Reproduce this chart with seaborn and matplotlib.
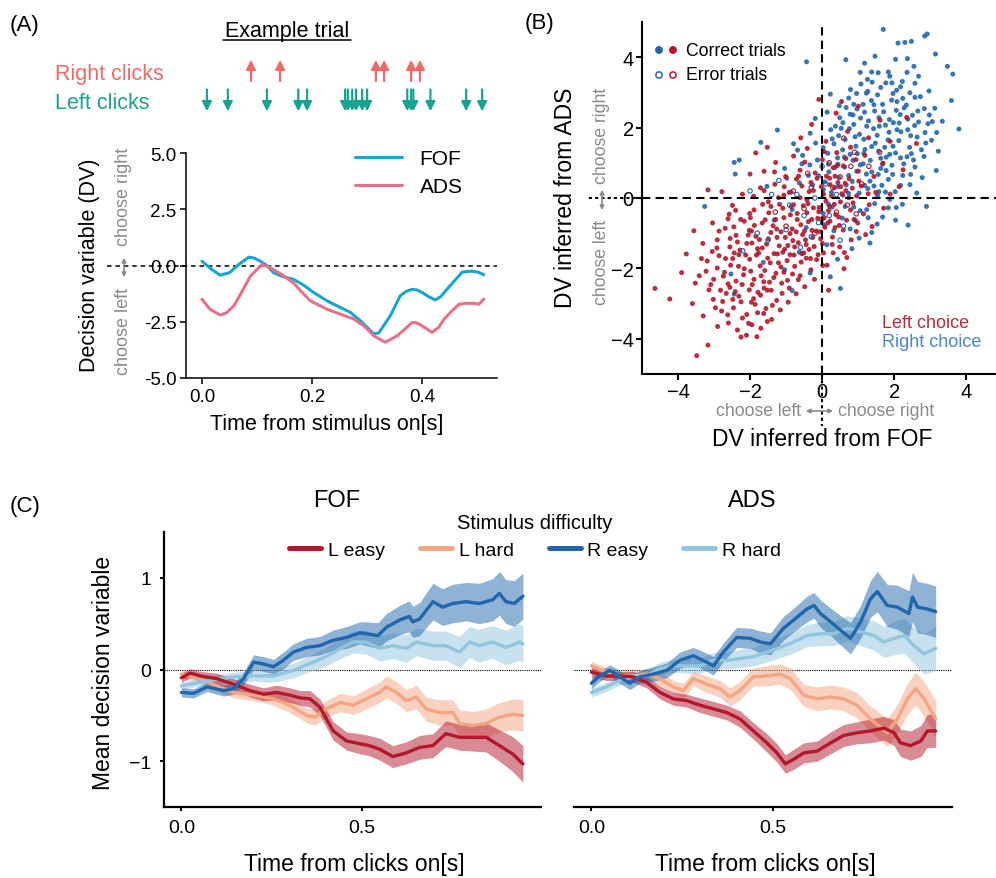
import pandas as pd
import seaborn as sns
import matplotlib.pyplot as plt
from matplotlib.lines import Line2D
from matplotlib.patches import FancyArrowPatch

W, H = 996, 879


def fx(x):
    return x / W


def fy(y):
    return 1 - y / H


# ---------------- panel A: example trial ----------------
right_clicks = [0.089, 0.142, 0.316, 0.331, 0.380, 0.396]
left_clicks = [0.009, 0.047, 0.118, 0.175, 0.191, 0.260, 0.265, 0.273, 0.280,
               0.291, 0.300, 0.373, 0.380, 0.384, 0.415, 0.480, 0.509]

fof_t = [0, 0.018, 0.033, 0.05, 0.067, 0.085, 0.095, 0.106, 0.118, 0.13, 0.148,
         0.167, 0.185, 0.203, 0.227, 0.25, 0.27, 0.288, 0.3, 0.312, 0.321, 0.33,
         0.343, 0.36, 0.371, 0.382, 0.39, 0.4, 0.413, 0.424, 0.434, 0.445, 0.458,
         0.473, 0.49, 0.502, 0.512]
fof_dv = [0.19, -0.18, -0.43, -0.32, 0.05, 0.37, 0.33, 0.19, 0.0, -0.32, -0.5,
          -0.62, -0.88, -1.2, -1.57, -1.85, -2.09, -2.46, -2.75, -3.04, -3.0, -2.68,
          -2.2, -1.35, -1.15, -1.06, -1.08, -1.2, -1.4, -1.53, -1.38, -1.06, -0.7,
          -0.29, -0.25, -0.3, -0.41]
ads_t = [0, 0.015, 0.033, 0.045, 0.058, 0.073, 0.088, 0.109, 0.12, 0.13, 0.148,
         0.167, 0.182, 0.197, 0.227, 0.25, 0.276, 0.295, 0.312, 0.333, 0.355, 0.37,
         0.382, 0.39, 0.4, 0.418, 0.43, 0.44, 0.455, 0.467, 0.48, 0.494, 0.503, 0.512]
ads_dv = [-1.5, -1.95, -2.2, -2.1, -1.79, -1.15, -0.47, 0.04, -0.05, -0.18, -0.45,
          -0.79, -1.2, -1.57, -1.94, -2.15, -2.38, -2.7, -3.12, -3.41, -3.12, -2.8,
          -2.53, -2.55, -2.68, -2.97, -2.75, -2.38, -2.0, -1.72, -1.68, -1.68, -1.72, -1.5]

# ---------------- panel B: single-trial DVs (FOF, ADS) ----------------
right_correct = [
    (1.70, 4.79), (2.85, 4.60), (2.92, 4.66), (2.11, 4.40), (2.30, 4.42), (2.48, 4.45),
    (3.15, 4.09), (3.48, 3.74), (3.63, 3.52), (3.59, 2.77), (3.80, 1.96), (0.66, 3.93),
    (-0.43, 3.87), (-2.44, 1.01), (-2.30, 1.08), (-2.41, 0.68), (-3.26, -0.24), (-1.70, 1.58),
    (0.51, -2.57), (2.39, -0.77), (2.90, -0.24), (3.17, 0.78), (-2.53, -2.16), (-2.44, -2.73),
    (-0.83, -2.63), (1.18, 3.83), (1.47, 4.03), (1.84, 3.58), (2.04, 3.94), (2.23, 3.31),
    (2.55, 3.74), (1.39, 3.29), (1.06, 3.57), (1.63, 3.14), (2.68, 3.46), (0.79, 3.08),
    (1.94, 3.27), (2.37, 3.96), (2.97, 3.04), (1.27, 3.03), (0.23, 2.95), (0.49, 2.28),
    (0.74, 2.84), (0.88, 2.09), (1.14, 2.66), (1.29, 2.19), (1.54, 2.93), (1.71, 2.45),
    (1.93, 2.78), (2.14, 2.13), (2.34, 2.64), (2.51, 2.35), (2.73, 2.88), (2.94, 2.11),
    (3.13, 2.55), (3.34, 2.18), (0.37, 2.04), (1.23, 2.98), (1.59, 2.04), (2.06, 2.49),
    (2.44, 2.99), (0.14, 2.44), (0.97, 2.53), (1.44, 2.65), (1.87, 2.23), (2.24, 2.83),
    (2.84, 2.54), (-0.19, 2.26), (-1.24, 1.93), (-0.79, 1.54), (-0.54, 1.21), (-0.33, 1.84),
    (0.03, 1.43), (0.24, 1.94), (0.43, 1.14), (0.64, 1.66), (0.78, 1.24), (1.04, 1.81),
    (1.19, 1.38), (1.43, 1.97), (1.63, 1.13), (1.83, 1.65), (2.04, 1.28), (2.19, 1.88),
    (2.43, 1.44), (2.64, 1.73), (2.83, 1.18), (3.04, 1.64), (3.23, 1.33), (0.53, 1.98),
    (0.94, 1.47), (1.34, 1.07), (1.74, 1.44), (2.13, 1.63), (2.54, 1.08), (-0.13, 1.08),
    (0.33, 1.54), (1.53, 1.78), (-1.53, 0.33), (-1.04, 0.84), (-0.63, 0.43), (-0.34, 0.94),
    (0.04, 0.24), (0.19, 0.74), (0.44, 0.33), (0.63, 0.88), (0.84, 0.47), (1.03, 0.14),
    (1.23, 0.68), (1.44, 0.34), (1.63, 0.84), (1.84, 0.53), (2.03, 0.18), (2.24, 0.64),
    (2.44, 0.38), (2.63, 0.14), (1.14, 0.97), (1.54, 0.07), (0.74, 0.13), (1.94, 0.93),
    (2.78, 0.58), (-0.09, 0.63), (0.47, 0.58), (1.33, 0.48), (-1.33, -0.63), (-0.83, -0.33),
    (-0.44, -0.84), (0.03, -0.44), (0.33, -0.93), (0.64, -0.24), (0.93, -0.64), (1.24, -0.33),
    (1.53, -0.74), (1.84, -0.28), (2.04, -0.63), (2.23, -0.18), (0.78, -0.88), (1.38, -0.98),
    (0.18, -0.18), (1.68, -0.54), (-1.63, -1.83), (-0.63, -1.54), (-0.33, -2.13), (0.13, -1.33),
    (0.43, -1.74), (0.83, -1.44), (1.03, -1.14), (-1.04, -2.04), (0.23, -2.24), (1.33, -1.28),
    (0.57, 1.37), (0.86, 2.36), (1.16, 1.67), (1.37, 2.77), (1.57, 1.33), (1.76, 2.07),
    (1.97, 1.47), (2.17, 2.37), (2.36, 1.17), (2.57, 2.06), (0.36, 0.87), (0.67, 0.37),
    (0.96, 0.76), (1.27, 0.27), (1.66, 0.36), (1.96, 0.67), (2.27, 0.97), (0.16, 1.27),
    (0.46, 1.77), (0.76, 1.97), (1.07, 2.27), (1.46, 2.47), (1.86, 1.87), (2.46, 1.77),
    (2.66, 2.47), (1.26, 3.37), (1.77, 3.27), (2.07, 3.06), (2.36, 3.57), (1.56, 3.56),
    (0.96, 2.97), (2.86, 1.86), (3.06, 2.17), (0.26, 0.16), (-0.26, 0.37), (-0.56, 0.97),
    (-0.86, 0.17), (0.06, -0.76), (0.56, -0.57), (1.06, -0.36), (1.46, -0.16), (1.76, 0.17),
    (2.06, -0.27), (0.86, 1.07), (1.16, 1.27), (1.56, 0.67), (2.46, 0.67), (2.76, 1.37),
    (0.67, 2.57), (1.97, 2.97), (0.62, 1.16), (0.92, 1.74), (1.24, 2.04), (1.48, 1.56),
    (1.68, 2.66), (1.88, 1.24), (2.08, 1.94), (2.28, 2.56), (2.48, 1.26), (2.68, 2.16),
    (0.44, 0.96), (0.74, 0.64), (1.06, 0.94), (1.38, 0.74), (1.78, 0.78), (2.18, 1.14),
    (0.28, 1.68), (0.58, 2.14), (0.88, 2.66), (1.18, 2.44), (1.58, 2.28), (1.98, 2.14),
    (2.38, 2.24), (2.58, 2.86), (1.38, 3.58), (1.88, 3.46), (2.18, 3.16), (2.58, 3.26),
    (1.08, 3.24), (0.48, 2.62), (2.98, 2.36), (3.18, 1.86), (0.08, 0.46), (-0.38, 0.64),
    (-0.68, 1.36), (-0.98, 0.56), (0.28, -0.26), (0.88, -0.26), (1.28, -0.56), (1.58, 0.18),
    (1.88, -0.04), (2.18, 0.36), (0.98, 1.26), (1.38, 1.46), (1.68, 0.96), (2.58, 0.88),
    (2.88, 1.56), (0.78, 2.38), (2.08, 2.74), (1.18, 0.36), (0.58, 0.08), (0.18, 0.96),
    (-0.18, 1.56), (1.78, 1.16), (2.38, 1.94),
]

left_correct = [
    (-3.48, -4.48), (-3.17, -4.18), (-2.35, -3.75), (-2.10, -3.90), (-1.81, -3.94), (-1.95, -3.60),
    (-2.60, -3.55), (-1.52, -3.51), (-2.25, -3.95), (-1.70, -3.70), (-2.90, -3.65), (-1.40, -3.45),
    (-4.64, -2.57), (-4.23, -2.87), (-3.60, -3.00), (-3.30, -3.35), (-3.02, -2.88), (-2.79, -3.21),
    (-2.66, -2.71), (-2.46, -3.12), (-2.31, -2.79), (-2.09, -3.31), (-2.02, -2.61), (-1.86, -3.02),
    (-1.71, -2.76), (-1.56, -3.14), (-1.41, -2.62), (-1.26, -2.91), (-2.56, -2.54), (-3.14, -2.61),
    (-2.21, -3.41), (-1.96, -2.96), (-1.61, -2.56), (-2.76, -2.94), (-1.11, -2.71), (-0.91, -2.56),
    (-2.41, -2.66), (-1.79, -3.26), (-3.77, -1.59), (-3.41, -2.21), (-3.19, -1.79), (-3.01, -2.31),
    (-2.86, -1.64), (-2.71, -2.11), (-2.54, -1.91), (-2.39, -2.36), (-2.31, -1.61), (-2.16, -2.01),
    (-2.01, -1.74), (-1.89, -2.31), (-1.76, -1.56), (-1.59, -2.06), (-1.51, -1.71), (-1.34, -2.26),
    (-1.21, -1.84), (-1.06, -2.11), (-0.89, -1.61), (-0.76, -1.94), (-0.61, -2.21), (-0.44, -1.71),
    (-0.31, -2.04), (-0.11, -1.61), (0.14, -1.91), (0.31, -1.56), (-2.61, -2.44), (-1.94, -2.46),
    (-1.46, -2.39), (-0.96, -2.34), (-2.44, -1.56), (-1.09, -1.54), (0.61, -2.01), (0.69, -1.69),
    (-0.21, -2.31), (-3.09, -2.46), (-2.91, -1.99), (-1.69, -2.21), (-1.24, -1.59), (-0.51, -1.56),
    (-3.56, -0.93), (-3.31, -1.29), (-3.04, -0.71), (-2.91, -1.19), (-2.69, -0.86), (-2.56, -1.39),
    (-2.39, -1.06), (-2.26, -0.61), (-2.09, -1.29), (-1.96, -0.94), (-1.79, -1.44), (-1.66, -0.71),
    (-1.49, -1.16), (-1.36, -0.79), (-1.19, -1.36), (-1.06, -0.56), (-0.89, -1.01), (-0.76, -1.39),
    (-0.59, -0.76), (-0.46, -1.19), (-0.29, -0.61), (-0.16, -0.94), (0.01, -1.29), (0.16, -0.71),
    (0.29, -1.11), (0.46, -0.54), (0.59, -0.91), (0.81, -1.19), (0.99, -0.71), (1.21, -1.04),
    (-1.99, -0.56), (-1.54, -1.31), (-1.14, -0.96), (-0.69, -0.61), (-0.36, -1.46), (0.06, -0.56),
    (0.49, -1.39), (-2.61, -0.59), (-1.84, -1.09), (-1.29, -0.61), (-0.81, -1.21), (-0.49, -0.94),
    (-0.04, -1.16), (0.36, -0.84), (0.89, -0.61), (1.39, -0.81), (-3.17, 0.23), (-2.78, 0.18),
    (-2.49, -0.21), (-2.21, 0.11), (-1.89, -0.34), (-1.71, 0.29), (-1.49, -0.11), (-1.31, 0.39),
    (-1.09, -0.29), (-0.91, 0.16), (-0.69, -0.44), (-0.56, 0.34), (-0.39, -0.16), (-0.24, 0.21),
    (-0.09, -0.39), (0.04, 0.11), (0.21, -0.24), (0.34, 0.29), (0.51, -0.11), (0.66, 0.21),
    (0.79, -0.34), (0.96, 0.06), (1.09, 0.34), (1.31, -0.19), (1.49, 0.16), (1.71, -0.29),
    (-2.01, -0.44), (-1.21, 0.01), (-0.79, -0.19), (-0.31, 0.44), (0.11, -0.09), (0.44, 0.44),
    (0.74, 0.01), (-1.61, 0.21), (-0.61, 0.01), (0.26, 0.06), (1.89, 0.11), (-2.00, 0.68),
    (-1.84, 1.28), (-1.52, 1.44), (-1.61, 0.76), (-1.29, 1.01), (-1.01, 0.61), (-0.79, 1.19),
    (-0.61, 0.79), (-0.41, 1.41), (-0.19, 0.71), (0.01, 1.09), (0.21, 0.56), (0.41, 1.29),
    (0.59, 0.91), (0.79, 1.44), (1.01, 0.76), (1.19, 1.21), (1.44, 0.61), (1.69, 0.99),
    (2.25, 0.80), (2.14, 0.32), (-0.71, 0.54), (0.31, 0.86), (0.94, 1.09), (-0.09, 2.80),
    (2.62, 1.55), (2.35, 2.29), (-0.59, 1.71), (-0.29, 2.09), (0.11, 1.61), (0.39, 2.41),
    (0.71, 1.89), (1.01, 2.61), (1.29, 1.71), (1.61, 2.21), (0.54, 2.74), (1.89, 1.61),
    (-2.35, -1.25), (-2.12, -1.62), (-1.88, -0.78), (-1.72, -1.93), (-1.48, -0.42), (-1.33, -1.58),
    (-1.18, -0.18), (-0.97, -1.78), (-0.83, -0.88), (-0.66, -1.27), (-0.52, -0.22), (-0.38, -0.67),
    (-0.22, -1.38), (-0.08, -0.27), (0.08, -0.83), (0.22, 0.38), (0.38, -0.47), (0.55, 0.12),
    (0.68, -0.63), (0.84, 0.28), (-2.68, -1.72), (-2.45, -0.82), (-2.18, -2.18), (-1.95, -1.28),
    (-1.62, -2.38), (-1.42, -0.98), (-1.12, -2.42), (-0.88, -0.48), (-0.58, -1.82), (-0.28, -0.92),
    (-0.02, 0.32), (0.28, -1.32), (-3.05, -1.52), (-2.82, -2.62), (-2.25, -2.95), (-1.38, -3.05),
    (-0.72, -2.72), (-0.42, -0.05), (0.12, 0.62), (0.42, 0.92), (-1.05, 0.32), (-1.65, -0.18),
    (-2.05, -1.05), (-2.55, -1.15), (-0.15, -1.75), (0.62, -1.55), (0.95, -0.95), (1.15, -0.45),
    (-0.65, 0.62), (-0.95, -1.35), (-1.78, -2.68), (-2.92, -1.42), (-3.35, -1.72), (-1.25, -1.12),
    (-0.48, -2.52), (0.18, -2.62), (0.75, 0.55), (1.28, 0.12), (-1.90, 0.05), (-2.40, -0.35),
    (-2.28, -1.48), (-2.02, -0.92), (-1.82, -1.62), (-1.58, -0.62), (-1.44, -1.84), (-1.26, -0.88),
    (-1.04, -1.46), (-0.86, -0.24), (-0.72, -0.96), (-0.56, -1.58), (-0.42, -0.42), (-0.26, -1.12),
    (-0.12, -0.58), (0.04, -1.56), (0.18, -0.36), (0.34, -0.18), (0.48, -0.78), (0.64, 0.42),
    (-2.74, -2.22), (-2.48, -1.72), (-2.22, -2.46), (-1.98, -2.08), (-1.74, -1.18), (-1.52, -2.62),
    (-1.28, -2.14), (-1.02, -1.12), (-0.78, -1.62), (-0.54, -1.04), (-0.32, -1.72), (-0.06, -0.96),
    (0.22, -0.66), (-3.22, -2.08), (-2.96, -3.12), (-2.62, -3.32), (-2.04, -3.56), (-1.62, -3.28),
    (-1.16, -3.18), (-0.36, 0.18), (-0.14, 0.56), (0.52, 0.32), (-1.42, -0.24), (-2.16, -0.66),
    (-2.86, -0.94), (-1.90, -2.86), (-0.66, -2.32), (-0.94, -2.96), (-2.48, -2.88), (-3.52, -2.42),
    (-3.90, -2.12), (-1.06, 0.08), (-0.24, -0.28), (0.36, 0.62), (0.86, -0.14), (1.02, 0.48),
    (-1.66, -1.42), (-2.32, -1.94), (-1.14, -1.96), (-0.82, -2.16), (-0.44, -1.32), (0.02, -1.92),
    (-2.58, -0.46), (-1.32, 0.74), (-0.48, 1.02), (0.06, 1.32), (0.66, 1.12),
]

left_error = [(0.5, 0.6), (0.9, 1.3), (0.2, 1.0), (-0.3, 0.3), (0.7, -0.2), (1.1, 0.4),
              (0.0, -0.6), (-0.5, -0.3), (0.4, -0.4), (1.3, 0.9), (-0.8, 0.2), (0.6, 1.7),
              (-0.2, -1.0), (0.95, -0.45), (-1.0, -0.8), (1.6, 1.3), (0.3, 0.3), (-0.4, 0.7),
              (0.8, 0.9), (-1.3, -0.4)]
right_error = [(-0.5, -0.5), (-1.0, -0.9), (-0.2, 0.0), (0.2, -0.5), (-0.7, 0.1), (-1.5, -1.2),
               (0.1, 0.4), (-0.9, -0.2), (-1.8, -1.0), (0.4, 0.1), (-0.3, -1.1), (-1.2, 0.5),
               (0.6, -0.8), (-2.2, -1.5), (-0.6, -1.4), (0.0, 0.9), (-1.4, 0.1), (-0.1, -0.7),
               (0.5, -1.2), (-2.0, 0.2)]

# ---------------- panel C: mean DV by stimulus difficulty ----------------
fof_reasy_t = [0, 0.034, 0.071, 0.117, 0.144, 0.172, 0.2, 0.227, 0.255, 0.282, 0.31, 0.346,
               0.383, 0.42, 0.457, 0.494, 0.512, 0.544, 0.567, 0.604, 0.631, 0.64, 0.659,
               0.696, 0.723, 0.751, 0.788, 0.824, 0.861, 0.88, 0.898, 0.921, 0.945]
fof_reasy_m = [-0.25, -0.26, -0.19, -0.23, -0.21, -0.10, 0.08, 0.06, 0.03, 0.10, 0.19, 0.24,
               0.26, 0.32, 0.35, 0.40, 0.39, 0.37, 0.46, 0.54, 0.58, 0.52, 0.55,
               0.74, 0.68, 0.72, 0.74, 0.72, 0.76, 0.83, 0.74, 0.72, 0.80]
fof_reasy_e = [0.05, 0.05, 0.05, 0.06, 0.06, 0.07, 0.08, 0.08, 0.08, 0.09, 0.09, 0.1,
               0.1, 0.11, 0.12, 0.12, 0.13, 0.14, 0.15, 0.16, 0.17, 0.17, 0.18,
               0.2, 0.2, 0.21, 0.21, 0.22, 0.23, 0.24, 0.24, 0.25, 0.25]

fof_rhard_t = [0, 0.05, 0.11, 0.144, 0.2, 0.255, 0.31, 0.365, 0.4, 0.44, 0.475, 0.51, 0.55,
               0.585, 0.622, 0.65, 0.696, 0.732, 0.77, 0.797, 0.824, 0.861, 0.898, 0.935, 0.945]
fof_rhard_m = [-0.18, -0.14, -0.10, -0.08, -0.07, -0.07, -0.01, 0.08, 0.14, 0.23, 0.30, 0.30,
               0.23, 0.26, 0.23, 0.30, 0.26, 0.26, 0.19, 0.30, 0.26, 0.30, 0.24, 0.30, 0.28]
fof_rhard_e = [0.04, 0.04, 0.05, 0.05, 0.06, 0.07, 0.08, 0.09, 0.1, 0.11, 0.12, 0.13, 0.14,
               0.14, 0.15, 0.15, 0.16, 0.16, 0.17, 0.17, 0.18, 0.18, 0.19, 0.2, 0.2]

fof_leasy_t = [0, 0.025, 0.052, 0.098, 0.144, 0.19, 0.227, 0.264, 0.3, 0.328, 0.356, 0.383,
               0.42, 0.457, 0.494, 0.52, 0.549, 0.585, 0.622, 0.659, 0.696, 0.732, 0.77,
               0.806, 0.843, 0.88, 0.916, 0.945]
fof_leasy_m = [-0.09, -0.04, -0.07, -0.10, -0.16, -0.23, -0.27, -0.25, -0.28, -0.31, -0.32, -0.41,
               -0.67, -0.78, -0.81, -0.83, -0.87, -0.95, -0.91, -0.85, -0.83, -0.70, -0.74,
               -0.74, -0.74, -0.83, -0.92, -1.03]
fof_leasy_e = [0.05, 0.05, 0.05, 0.06, 0.06, 0.07, 0.07, 0.08, 0.08, 0.08, 0.09, 0.09,
               0.1, 0.1, 0.11, 0.11, 0.12, 0.12, 0.12, 0.13, 0.13, 0.14, 0.14,
               0.15, 0.16, 0.17, 0.19, 0.2]

fof_lhard_t = [0, 0.052, 0.098, 0.144, 0.2, 0.255, 0.3, 0.346, 0.37, 0.4, 0.44, 0.475, 0.512,
               0.549, 0.567, 0.595, 0.622, 0.65, 0.677, 0.714, 0.751, 0.77, 0.806, 0.843,
               0.88, 0.916, 0.945]
fof_lhard_m = [-0.05, -0.10, -0.18, -0.25, -0.28, -0.32, -0.39, -0.50, -0.52, -0.43, -0.36,
               -0.39, -0.32, -0.25, -0.19, -0.25, -0.34, -0.30, -0.43, -0.47, -0.47, -0.59,
               -0.61, -0.59, -0.52, -0.49, -0.50]
fof_lhard_e = [0.04, 0.05, 0.05, 0.06, 0.06, 0.07, 0.08, 0.08, 0.09, 0.09, 0.1, 0.1, 0.11,
               0.11, 0.12, 0.12, 0.12, 0.13, 0.13, 0.14, 0.14, 0.15, 0.15, 0.16,
               0.16, 0.17, 0.17]

ads_reasy_t = [0, 0.023, 0.051, 0.078, 0.106, 0.134, 0.171, 0.208, 0.244, 0.281, 0.318, 0.337,
               0.364, 0.401, 0.439, 0.466, 0.494, 0.53, 0.558, 0.595, 0.614, 0.632, 0.66,
               0.687, 0.715, 0.743, 0.77, 0.789, 0.816, 0.844, 0.876, 0.886, 0.9, 0.927, 0.95]
ads_reasy_m = [-0.15, -0.07, -0.01, -0.08, -0.15, -0.08, -0.05, -0.01, 0.10, 0.15, 0.08, 0.04,
               0.19, 0.35, 0.34, 0.30, 0.28, 0.45, 0.54, 0.66, 0.70, 0.61, 0.52,
               0.43, 0.34, 0.52, 0.77, 0.85, 0.70, 0.68, 0.61, 0.79, 0.68, 0.66, 0.63]
ads_reasy_e = [0.06, 0.06, 0.06, 0.07, 0.07, 0.07, 0.08, 0.08, 0.09, 0.09, 0.1, 0.1,
               0.1, 0.11, 0.11, 0.12, 0.12, 0.13, 0.13, 0.14, 0.14, 0.15, 0.15,
               0.16, 0.17, 0.18, 0.2, 0.22, 0.23, 0.24, 0.25, 0.27, 0.28, 0.28, 0.28]

ads_rhard_t = [0, 0.041, 0.078, 0.115, 0.152, 0.189, 0.226, 0.263, 0.3, 0.337, 0.374, 0.41,
               0.447, 0.484, 0.521, 0.558, 0.595, 0.632, 0.669, 0.706, 0.743, 0.78, 0.807,
               0.835, 0.863, 0.89, 0.918, 0.95]
ads_rhard_m = [-0.25, -0.19, -0.12, -0.08, -0.07, 0.01, 0.04, 0.04, 0.04, 0.10, 0.10, 0.12,
               0.14, 0.19, 0.24, 0.30, 0.37, 0.39, 0.39, 0.45, 0.41, 0.37, 0.30,
               0.34, 0.37, 0.26, 0.17, 0.23]
ads_rhard_e = [0.05, 0.05, 0.05, 0.06, 0.06, 0.07, 0.07, 0.08, 0.08, 0.09, 0.09, 0.1,
               0.1, 0.11, 0.11, 0.12, 0.12, 0.13, 0.13, 0.14, 0.15, 0.16, 0.17,
               0.18, 0.19, 0.2, 0.22, 0.24]

ads_leasy_t = [0, 0.041, 0.078, 0.115, 0.152, 0.189, 0.226, 0.263, 0.3, 0.337, 0.374, 0.41,
               0.447, 0.484, 0.512, 0.535, 0.558, 0.586, 0.623, 0.66, 0.696, 0.733, 0.77,
               0.807, 0.835, 0.853, 0.881, 0.909, 0.927, 0.95]
ads_leasy_m = [-0.03, -0.07, -0.07, -0.08, -0.14, -0.25, -0.32, -0.34, -0.39, -0.43, -0.47,
               -0.54, -0.67, -0.80, -0.91, -1.03, -0.98, -0.91, -0.89, -0.80, -0.72, -0.69,
               -0.67, -0.64, -0.69, -0.80, -0.83, -0.78, -0.67, -0.67]
ads_leasy_e = [0.05, 0.05, 0.05, 0.06, 0.06, 0.07, 0.07, 0.07, 0.08, 0.08, 0.08, 0.09,
               0.09, 0.1, 0.1, 0.1, 0.11, 0.11, 0.11, 0.12, 0.12, 0.12, 0.13,
               0.13, 0.14, 0.15, 0.16, 0.17, 0.18, 0.18]

ads_lhard_t = [0, 0.041, 0.078, 0.115, 0.152, 0.189, 0.226, 0.254, 0.281, 0.318, 0.355, 0.383,
               0.41, 0.447, 0.484, 0.521, 0.549, 0.586, 0.623, 0.66, 0.696, 0.733, 0.77,
               0.798, 0.816, 0.844, 0.872, 0.895, 0.918, 0.95]
ads_lhard_m = [0.04, -0.03, -0.07, -0.07, -0.05, -0.10, -0.19, -0.23, -0.10, -0.16, -0.21,
               -0.30, -0.23, -0.08, -0.07, -0.05, -0.10, -0.28, -0.32, -0.30, -0.32, -0.39,
               -0.54, -0.63, -0.69, -0.54, -0.32, -0.21, -0.32, -0.54]
ads_lhard_e = [0.05, 0.05, 0.05, 0.06, 0.06, 0.07, 0.07, 0.08, 0.08, 0.09, 0.09, 0.1,
               0.1, 0.1, 0.11, 0.11, 0.12, 0.12, 0.13, 0.13, 0.13, 0.14, 0.14,
               0.15, 0.15, 0.16, 0.17, 0.18, 0.19, 0.2]

difficulty_labels = ["L easy", "L hard", "R easy", "R hard"]

# colours
C_FOF, C_ADS = "#16a6cf", "#e8718a"
C_RCLICK, C_LCLICK = "#ef6a64", "#17a391"
C_RED, C_BLUE = "#b2182b", "#2166ac"
C_LHARD, C_RHARD = "#f4a582", "#92c5de"
GRAY = "#8a8a8a"

sns.set_theme(style="ticks")
plt.rcParams["font.family"] = ["Liberation Sans", "DejaVu Sans"]
for key in ["text.color", "axes.labelcolor", "xtick.color", "ytick.color", "axes.edgecolor"]:
    plt.rcParams[key] = "black"

fig = plt.figure(figsize=(W / 100, H / 100), dpi=100)

# ================= panel A =================
fig.text(fx(10), fy(31), "(A)", fontsize=16, va="baseline")
fig.text(fx(287), fy(37), "Example trial", fontsize=15.5, ha="center", va="baseline")
fig.add_artist(Line2D([fx(223), fx(351)], [fy(41), fy(41)], color="black", lw=1.1,
                      transform=fig.transFigure))
fig.text(fx(55), fy(80), "Right clicks", fontsize=15.5, color=C_RCLICK, va="baseline")
fig.text(fx(55), fy(109), "Left clicks", fontsize=15.5, color=C_LCLICK, va="baseline")

ax_clk = fig.add_axes([fx(186), fy(114), 311 / W, 56 / H])
ax_clk.set_xlim(-0.029, 0.536)
ax_clk.set_ylim(0, 1)
ax_clk.axis("off")
for t in right_clicks:
    ax_clk.annotate("", xy=(t, 0.95), xytext=(t, 0.57),
                    arrowprops=dict(arrowstyle="-|>", color=C_RCLICK, lw=1.6,
                                    mutation_scale=14, shrinkA=0, shrinkB=0))
for t in left_clicks:
    ax_clk.annotate("", xy=(t, 0.03), xytext=(t, 0.42),
                    arrowprops=dict(arrowstyle="-|>", color=C_LCLICK, lw=1.6,
                                    mutation_scale=14, shrinkA=0, shrinkB=0))

axA = fig.add_axes([fx(186), fy(379), 311 / W, 225 / H])
sns.lineplot(x=fof_t, y=fof_dv, color=C_FOF, lw=2.2, label="FOF", ax=axA)
sns.lineplot(x=ads_t, y=ads_dv, color=C_ADS, lw=2.2, label="ADS", ax=axA)
axA.plot([-0.173, 0.536], [0, 0], ls=(0, (3, 2.5)), color="black", lw=1.1,
         clip_on=False, zorder=0)
axA.set_xlim(-0.029, 0.536)
axA.set_ylim(-5, 5)
axA.set_xticks([0, 0.2, 0.4])
axA.set_xticklabels(["0.0", "0.2", "0.4"])
axA.set_yticks([5, 2.5, 0, -2.5, -5])
axA.set_yticklabels(["5.0", "2.5", "0.0", "-2.5", "-5.0"])
axA.tick_params(labelsize=13.5, length=4, width=1.1, pad=3)
for s in ["left", "bottom"]:
    axA.spines[s].set_linewidth(1.1)
sns.despine(ax=axA)
axA.set_xlabel("")
axA.set_ylabel("")
axA.legend(loc="upper left", bbox_to_anchor=(fx(355), fy(150)), bbox_transform=fig.transFigure,
           frameon=False, fontsize=15, handlelength=2.25, handletextpad=0.85,
           labelspacing=0.45, borderpad=0, borderaxespad=0)
fig.text(fx(327), fy(425), "Time from stimulus on[s]", fontsize=15.5, ha="center", va="center")
fig.text(fx(89), fy(265), "Decision variable (DV)", fontsize=15.5, rotation=90,
         ha="center", va="center")
fig.text(fx(124), fy(197), "choose right", fontsize=13, color=GRAY, rotation=90,
         ha="center", va="center")
fig.text(fx(124), fy(331), "choose left", fontsize=13, color=GRAY, rotation=90,
         ha="center", va="center")
fig.add_artist(FancyArrowPatch((fx(124), fy(256)), (fx(124), fy(281)),
                               transform=fig.transFigure, arrowstyle="<|-|>",
                               mutation_scale=6, color=GRAY, lw=1.2))

# ================= panel B =================
fig.text(fx(525), fy(29), "(B)", fontsize=16, va="baseline")
axB = fig.add_axes([fx(642), fy(375), 354 / W, 352 / H])

df_r = pd.DataFrame(right_correct, columns=["fof", "ads"]).assign(choice="Right")
df_l = pd.DataFrame(left_correct, columns=["fof", "ads"]).assign(choice="Left")
correct = pd.concat([df_r, df_l], ignore_index=True)
sns.scatterplot(data=correct, x="fof", y="ads", hue="choice",
                palette={"Left": C_RED, "Right": C_BLUE}, s=13, linewidth=0,
                alpha=0.9, legend=False, ax=axB)
err_l = pd.DataFrame(left_error, columns=["fof", "ads"])
err_r = pd.DataFrame(right_error, columns=["fof", "ads"])
sns.scatterplot(data=err_r, x="fof", y="ads", s=10, facecolor="none", edgecolor=C_BLUE,
                linewidth=0.8, ax=axB)
sns.scatterplot(data=err_l, x="fof", y="ads", s=10, facecolor="none", edgecolor=C_RED,
                linewidth=0.8, ax=axB)

dash = (0, (4, 2.5))
axB.axvline(0, color="black", lw=1.5, ls=dash, zorder=3)
axB.axhline(0, color="black", lw=1.5, ls=dash, zorder=3)
axB.plot([0, 0], [-5, -6.48], color="black", lw=1.5, ls=(0, (1.5, 1.5)), clip_on=False)
axB.plot([-5, -6.53], [0, 0], color="black", lw=1.5, ls=(0, (1.5, 1.5)), clip_on=False)
axB.set_xlim(-5, 4.83)
axB.set_ylim(-5, 5)
axB.set_xticks([-4, -2, 0, 2, 4])
axB.set_yticks([-4, -2, 0, 2, 4])
axB.tick_params(labelsize=14.5, length=4, width=1.5, pad=2)
for s in ["left", "bottom"]:
    axB.spines[s].set_linewidth(1.5)
sns.despine(ax=axB)
axB.set_xlabel("")
axB.set_ylabel("")

# legend for correct / error trials
axB.scatter([fx(659), fx(673)], [fy(51), fy(51)], s=22, c=[C_BLUE, C_RED],
            transform=fig.transFigure, clip_on=False)
axB.scatter([fx(659), fx(673)], [fy(76), fy(76)], s=20, facecolors="none",
            edgecolors=[C_BLUE, C_RED], linewidths=1.1, transform=fig.transFigure, clip_on=False)
fig.text(fx(686), fy(51), "Correct trials", fontsize=12.7, va="center")
fig.text(fx(686), fy(76), "Error trials", fontsize=12.7, va="center")
fig.text(fx(882), fy(323), "Left choice", fontsize=13, color="#c0283a", va="center")
fig.text(fx(882), fy(343), "Right choice", fontsize=13, color="#4a86c8", va="center")

fig.text(fx(566), fy(198), "DV inferred from ADS", fontsize=16.5, rotation=90,
         ha="center", va="center")
fig.text(fx(822), fy(440), "DV inferred from FOF", fontsize=16.5, ha="center", va="center")
fig.text(fx(801), fy(412), "choose left", fontsize=12.7, color=GRAY, ha="right", va="center")
fig.text(fx(838), fy(412), "choose right", fontsize=12.7, color=GRAY, ha="left", va="center")
fig.add_artist(FancyArrowPatch((fx(803), fy(412)), (fx(836), fy(412)),
                               transform=fig.transFigure, arrowstyle="<|-|>",
                               mutation_scale=6, color=GRAY, lw=1.2))
fig.text(fx(602), fy(136), "choose right", fontsize=12.7, color=GRAY, rotation=90,
         ha="center", va="center")
fig.text(fx(602), fy(262), "choose left", fontsize=12.7, color=GRAY, rotation=90,
         ha="center", va="center")
fig.add_artist(FancyArrowPatch((fx(602), fy(188)), (fx(602), fy(214)),
                               transform=fig.transFigure, arrowstyle="<|-|>",
                               mutation_scale=6, color=GRAY, lw=1.2))

# ================= panel C =================
fig.text(fx(10), fy(512), "(C)", fontsize=16, va="baseline")
axC1 = fig.add_axes([fx(164), fy(808), 377 / W, 275 / H])
axC2 = fig.add_axes([fx(574), fy(808), 378 / W, 275 / H])

fof_series = [
    (fof_lhard_t, fof_lhard_m, fof_lhard_e, C_LHARD),
    (fof_rhard_t, fof_rhard_m, fof_rhard_e, C_RHARD),
    (fof_leasy_t, fof_leasy_m, fof_leasy_e, C_RED),
    (fof_reasy_t, fof_reasy_m, fof_reasy_e, C_BLUE),
]
ads_series = [
    (ads_lhard_t, ads_lhard_m, ads_lhard_e, C_LHARD),
    (ads_rhard_t, ads_rhard_m, ads_rhard_e, C_RHARD),
    (ads_leasy_t, ads_leasy_m, ads_leasy_e, C_RED),
    (ads_reasy_t, ads_reasy_m, ads_reasy_e, C_BLUE),
]

for ax, series in [(axC1, fof_series), (axC2, ads_series)]:
    ax.axhline(0, color="black", lw=0.8, ls=(0, (1, 1)), zorder=0)
    for t, m, e, c in series:
        lo = [a - b for a, b in zip(m, e)]
        hi = [a + b for a, b in zip(m, e)]
        ax.fill_between(t, lo, hi, color=c, alpha=0.5, lw=0)
        sns.lineplot(x=t, y=m, color=c, lw=2.4, ax=ax)
    ax.set_xlim(-0.048, 0.995)
    ax.set_ylim(-1.5, 1.5)
    ax.set_xticks([0, 0.5])
    ax.set_xticklabels(["0.0", "0.5"])
    ax.tick_params(labelsize=14, length=3, width=1.5, pad=6)
    for s in ["left", "bottom"]:
        ax.spines[s].set_linewidth(1.6)
    ax.set_xlabel("")
    ax.set_ylabel("")

axC1.set_yticks([-1, 0, 1])
sns.despine(ax=axC1)
sns.despine(ax=axC2, left=True)
axC2.set_yticks([])

fig.text(fx(337), fy(501), "FOF", fontsize=17, ha="center", va="center")
fig.text(fx(752), fy(501), "ADS", fontsize=17, ha="center", va="center")
fig.text(fx(354), fy(865), "Time from clicks on[s]", fontsize=16.5, ha="center", va="center")
fig.text(fx(765), fy(865), "Time from clicks on[s]", fontsize=16.5, ha="center", va="center")
fig.text(fx(103), fy(673), "Mean decision variable", fontsize=16.5, rotation=90,
         ha="center", va="center")

handles = [Line2D([], [], color=c, lw=3.6, solid_capstyle="round")
           for c in [C_RED, C_LHARD, C_BLUE, C_RHARD]]
fig.legend(handles, difficulty_labels, ncol=4, title="Stimulus difficulty",
           loc="center", bbox_to_anchor=(fx(535), fy(537)), frameon=False,
           fontsize=14, title_fontsize=14.5, handlelength=1.65, handletextpad=0.35,
           columnspacing=1.8, borderpad=0)

fig.savefig("out.png", dpi=100)
